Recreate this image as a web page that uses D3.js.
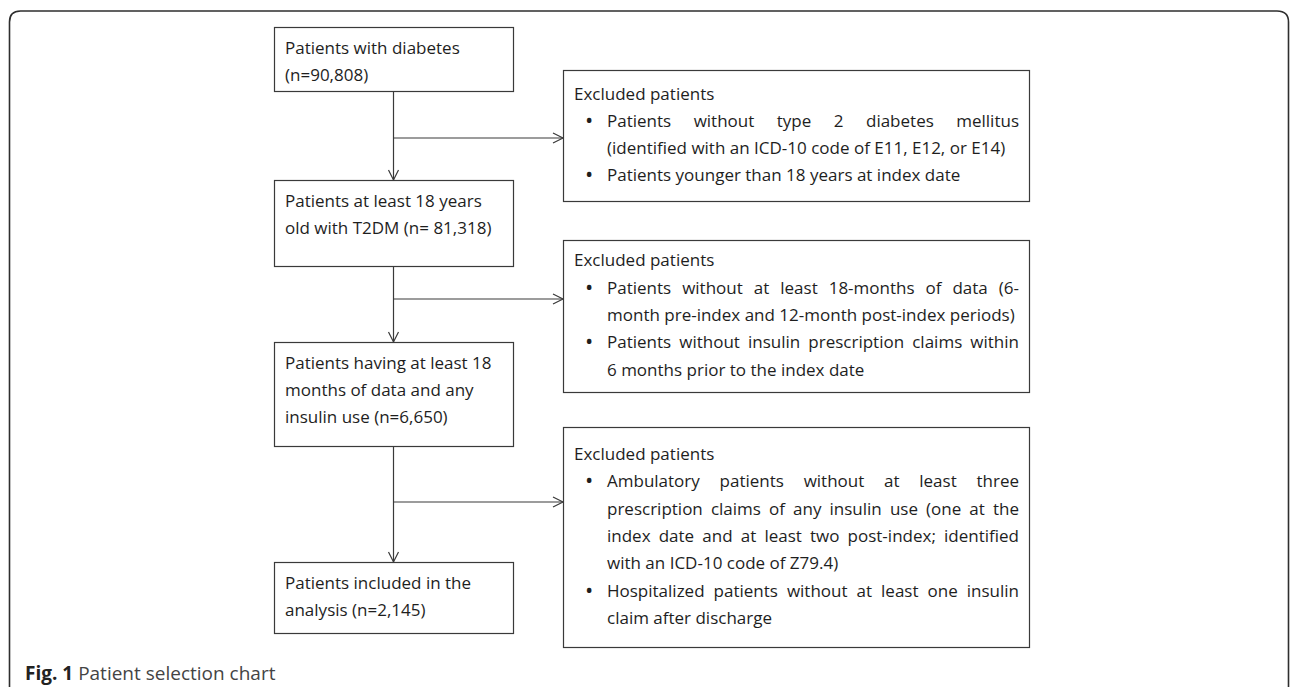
<!DOCTYPE html>
<html>
<head>
<meta charset="utf-8">
<script src="https://cdn.jsdelivr.net/npm/d3@7"></script>
<style>
  body { margin: 0; background: #fff; }
  svg { display: block; }
</style>
</head>
<body>
<div id="chart"></div>
<script>
// flow steps: text lines, {n} gets the count
const stepCounts = [90808, 81318, 6650, 2145];
const stepText = [
  ["Patients with diabetes", "(n={n})"],
  ["Patients at least 18 years", "old with T2DM (n= {n})"],
  ["Patients having at least 18", "months of data and any", "insulin use (n={n})"],
  ["Patients included in the", "analysis (n={n})"]
];

// exclusion boxes, one list of bullets each (line breaks as in figure)
const exclusionTitle = "Excluded patients";
const exclusions = [
  [
    ["Patients without type 2 diabetes mellitus", "(identified with an ICD-10 code of E11, E12, or E14)"],
    ["Patients younger than 18 years at index date"]
  ],
  [
    ["Patients without at least 18-months of data (6-", "month pre-index and 12-month post-index periods)"],
    ["Patients without insulin prescription claims within", "6 months prior to the index date"]
  ],
  [
    ["Ambulatory patients without at least three", "prescription claims of any insulin use (one at the",
     "index date and at least two post-index; identified", "with an ICD-10 code of Z79.4)"],
    ["Hospitalized patients without at least one insulin", "claim after discharge"]
  ]
];

const captionLabel = "Fig. 1";
const captionText = "Patient selection chart";

// layout
const W = 1290, H = 687;
const FONT = "'Open Sans', sans-serif";
const FS = 17, LH = 27.3;
const col = {x0: 274, x1: 513};
const stepTop = [27, 180, 342, 562];
const stepBottom = [91, 266, 446, 633];
const ex = {x0: 563, x1: 1029};
const exTop = [70, 240, 427];
const exBottom = [201, 392, 647];
const arrowY = [138, 299, 502];
const ink = "#1e1e1e", edge = "#3a3a3a";

const svg = d3.select("#chart").append("svg")
    .attr("width", W)
    .attr("height", H);

const fmt = d3.format(",");
const cx = (col.x0 + col.x1) / 2;

// measuring helper
const probe = svg.append("text").attr("font-family", FONT).attr("font-size", FS)
    .attr("x", -1000).attr("y", -1000);
function textWidth(s) {
  probe.text(s);
  return probe.node().getComputedTextLength();
}

// outer frame
svg.append("path")
    .attr("d", "M9.5,700 V22 Q9.5,11 20.5,11 H1277 Q1288.5,11 1288.5,22 V700")
    .attr("fill", "none")
    .attr("stroke", "#2e2e2e")
    .attr("stroke-width", 1.6);

// connectors
const links = svg.append("g").attr("stroke", edge).attr("stroke-width", 1.2).attr("fill", "none");
const arrowHead = (x, y, dir) => dir === "down"
  ? `M${x - 5},${y - 10} L${x},${y} L${x + 5},${y - 10}`
  : `M${x - 10},${y - 5} L${x},${y} L${x - 10},${y + 5}`;

links.selectAll("line.v")
  .data(d3.range(stepTop.length - 1))
  .join("line")
    .attr("class", "v")
    .attr("x1", cx).attr("x2", cx)
    .attr("y1", i => stepBottom[i]).attr("y2", i => stepTop[i + 1]);
links.selectAll("path.vh")
  .data(d3.range(1, stepTop.length))
  .join("path")
    .attr("class", "vh")
    .attr("d", i => arrowHead(cx, stepTop[i], "down"));
links.selectAll("line.h")
  .data(arrowY)
  .join("line")
    .attr("class", "h")
    .attr("x1", cx).attr("x2", ex.x0)
    .attr("y1", d => d).attr("y2", d => d);
links.selectAll("path.hh")
  .data(arrowY)
  .join("path")
    .attr("class", "hh")
    .attr("d", d => arrowHead(ex.x0, d, "right"));

// step boxes
const steps = svg.selectAll("g.step")
  .data(stepText.map((lines, i) => ({lines: lines.map(l => l.replace("{n}", fmt(stepCounts[i]))), i})))
  .join("g")
    .attr("class", "step");

steps.append("rect")
    .attr("x", col.x0 + 0.5)
    .attr("y", d => stepTop[d.i] + 0.5)
    .attr("width", col.x1 - col.x0)
    .attr("height", d => stepBottom[d.i] - stepTop[d.i])
    .attr("fill", "#fff")
    .attr("stroke", edge)
    .attr("stroke-width", 1.2);

steps.each(function(d) {
  const g = d3.select(this);
  d.lines.forEach((line, k) => {
    g.append("text")
      .attr("x", col.x0 + 11)
      .attr("y", stepTop[d.i] + 26.5 + k * LH)
      .attr("font-family", FONT)
      .attr("font-size", FS)
      .attr("fill", ink)
      .text(line);
  });
});

// exclusion boxes
const textX = 607, textRight = 1019;
const boxes = svg.selectAll("g.excl")
  .data(exclusions.map((bullets, i) => ({bullets, i})))
  .join("g")
    .attr("class", "excl");

boxes.append("rect")
    .attr("x", ex.x0 + 0.5)
    .attr("y", d => exTop[d.i] + 0.5)
    .attr("width", ex.x1 - ex.x0)
    .attr("height", d => exBottom[d.i] - exTop[d.i])
    .attr("fill", "#fff")
    .attr("stroke", edge)
    .attr("stroke-width", 1.2);

boxes.each(function(d) {
  const g = d3.select(this);
  const nLines = 1 + d3.sum(d.bullets, b => b.length);
  const mid = (exTop[d.i] + exBottom[d.i]) / 2;
  // first baseline so block is centred in the box
  let y = mid - (nLines - 1) * LH / 2 + 5;
  const txt = (x, yy) => g.append("text")
      .attr("x", x).attr("y", yy)
      .attr("font-family", FONT).attr("font-size", FS).attr("fill", ink);

  txt(ex.x0 + 11, y).text(exclusionTitle);
  d.bullets.forEach(lines => {
    lines.forEach((line, k) => {
      y += LH;
      if (k === 0) txt(585, y + 1).attr("font-size", 22).text("\u2022");
      const last = k === lines.length - 1;
      const target = textRight - textX;
      const natural = textWidth(line);
      if (last && natural <= target) {
        txt(textX, y).text(line);
        return;
      }
      if (natural > target) {
        txt(textX, y).text(line)
          .attr("textLength", target)
          .attr("lengthAdjust", "spacingAndGlyphs");
        return;
      }
      // justify: spread words across the full width
      const words = line.split(" ");
      const ws = words.map(textWidth);
      const gap = (target - d3.sum(ws)) / (words.length - 1);
      const t = txt(textX, y);
      let x = textX;
      words.forEach((w, j) => {
        t.append("tspan").attr("x", x).text(w);
        x += ws[j] + gap;
      });
    });
  });
});

// caption
const cap = svg.append("text")
    .attr("x", 25)
    .attr("y", 680)
    .attr("font-family", FONT)
    .attr("font-size", 19);
cap.append("tspan").attr("font-weight", 700).attr("fill", "#222").text(captionLabel + " ");
cap.append("tspan").attr("fill", "#444").text(captionText);

probe.remove();
</script>
</body>
</html>
